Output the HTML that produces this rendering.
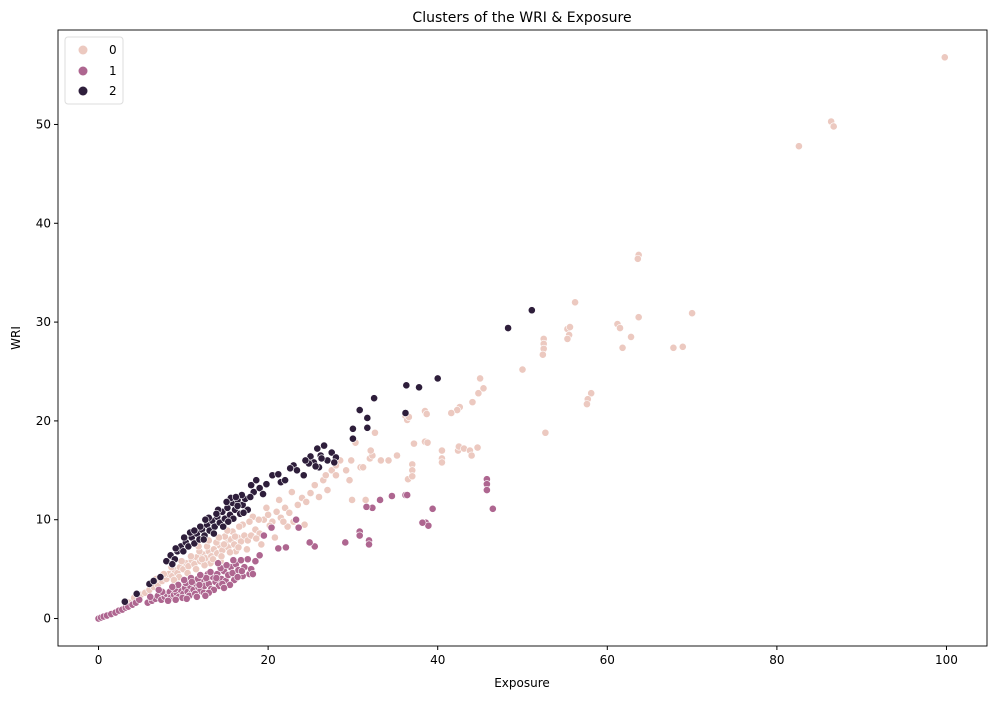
<!DOCTYPE html>
<html><head><meta charset="utf-8"><style>
body{margin:0;background:#fff;}
svg text{font-family:"DejaVu Sans","Liberation Sans",sans-serif;fill:#000;}
</style></head><body>
<svg id="chart" width="997" height="699" xmlns="http://www.w3.org/2000/svg">
<text x="522" y="22" text-anchor="middle" font-size="14">Clusters of the WRI &amp; Exposure</text>
<g id="marks"></g>
<g id="axes"></g>
<text x="522" y="687" text-anchor="middle" font-size="12">Exposure</text>
<text x="20" y="338" text-anchor="middle" font-size="12" transform="rotate(-90 20 338)">WRI</text>
<g>
<rect x="65" y="37" width="58" height="67" rx="3" fill="#fff" stroke="#ddd"/>
<circle cx="83" cy="50" r="4.5" fill="#ecc9c0"/>
<text x="109" y="54" font-size="12">0</text>
<circle cx="83" cy="71" r="4.5" fill="#ae6690"/>
<text x="109" y="75" font-size="12">1</text>
<circle cx="83" cy="91" r="4.5" fill="#2e1e3b"/>
<text x="109" y="95" font-size="12">2</text>
</g>
</svg>
<script>
const xTicks=[0,20,40,60,80,100];
const yTicks=[0,10,20,30,40,50];
const clusterColors=["#ecc9c0","#ae6690","#2e1e3b"];
const cluster1=[[0,0],[0.3,0.1],[0.6,0.2],[1,0.3],[1.5,0.45],[2,0.6],[2.4,0.8],[2.8,0.9],[3.2,1.1],[3.5,1.2],[4,1.4],[4.4,1.6],[4.8,1.9],[5.8,1.6],[6.3,1.8],[6.7,2],[7,2.3],[7.4,1.9],[7.8,2.2],[8,2.5],[8.4,2.7],[8.5,2.1],[8.9,2.4],[9.2,2.6],[9.5,2.2],[9.7,2.9],[10,2.5],[10.2,3.1],[10.5,2.7],[10.8,3.3],[11,2.6],[11.2,2.9],[11.5,3.5],[11.8,3.1],[12,2.8],[12.2,3.7],[12.5,3.3],[12.8,3.9],[13,3.5],[13.3,3],[13.5,4.2],[13.8,3.7],[14,4.5],[14.2,3.3],[14.5,4],[14.8,4.8],[15,3.8],[15.3,4.4],[15.6,5.2],[15.8,4.6],[16.2,5.5],[16.5,4.9],[16.8,5.9],[17.2,5.2],[17.6,6],[17.8,4.5],[18,5],[10.3,3.6],[9,3],[11.7,4],[12.9,4.5],[7.5,2.7],[14.6,3.5],[16,3.9],[13.6,2.9],[18.5,5.8],[19,6.4],[17,4.3],[12.4,2.6],[8.2,1.8],[9.9,2.1],[10.7,2.3],[11.4,2.5],
[9.4,3.4],[10.1,3.9],[10.9,4.1],[11.9,3.4],[12.7,4.1],[13.2,4.7],[13.9,4.1],[14.4,5.1],[15.1,5.4],[15.5,3.4],[16.4,4.2],[12,4.4],[11,3.7],[8.7,3.2],[7.1,2.9],[6.1,2.2],[9.1,1.9],[10.4,2],[13,2.6],[14.8,3.1],[16.9,4.8],[18.2,4.5],[15.9,5.9],[14.1,5.6],[12.6,2.3],[11.6,2.2],
[46.5,11.1],[45.8,14.1],[45.8,13.6],[45.8,13],[39.4,11.1],[38.6,9.7],[38.9,9.4],[38.2,9.7],[36.2,12.5],[36.4,12.5],[34.6,12.4],[33.2,12],[32.3,11.2],[31.6,11.3],[31.9,7.9],[31.9,7.5],[30.8,8.8],[30.8,8.4],[29.1,7.7],[25.5,7.3],[24.9,7.7],[23.6,9.2],[22.1,7.2],[21.2,7.1],[23.3,10],[19.5,8.4],[20.4,9.2]];
const cluster0=[[3.6,1.6],[4.2,2.1],[5,2.4],[5.5,2.6],[6,2.9],[6.5,3.2],[7,3.4],[7.5,3.8],[8,4],[8.3,4.5],[8.7,4.3],[9,4.9],[9.3,4.6],[9.6,5.2],[10,5],[10.3,5.6],[10.6,5.3],[11,5.9],[11.3,5.5],[11.6,6.2],[12,5.8],[12.3,6.5],[12.6,6.1],[13,6.8],[13.3,6.3],[13.6,7],[14,6.6],[14.3,7.4],[14.6,6.9],[15,7.6],[15.3,7.2],[15.6,8],[16,7.5],[16.4,8.2],[16.8,7.8],[17.2,8.4],[17.6,7.9],[18,8.4],[18.5,9],[19,8.6],[19.5,10],[20,10.5],[20.5,9.8],[21,10.8],[21.5,10.2],[22,11.2],[22.5,10.7],[23,9.8],[23.5,11.5],[24,12.2],[24.5,11.8],[25,12.7],[25.5,13.5],[26,12.3],[26.5,14],[27,13],[27.5,15],[28,14.5],[22.8,12.8],[21.3,12],[19.8,11.2],[18.2,10.3],[17,9.5],[15.8,8.8],[14.9,8.3],[13.9,7.7],[12.8,7.3],[11.9,6.8],[10.9,6.3],[9.8,5.8],[8.6,5.2],[7.7,4.5],[6.8,4],[14.4,5.8],[13.2,5.6],[16.2,6.8],[17.5,7],[19.2,7.5],[20.8,8.2],[22.3,9.3],[29.8,16],[29.2,15],[30.3,17.8],[24.3,9.5],
[10.5,4.6],[11.5,5],[12.5,5.4],[13.5,6],[14.5,6.3],[15.5,6.7],[16.5,7.2],[11.8,7.3],[13,7.9],[14.2,8.2],[15.2,8.9],[16.6,9.3],[17.8,9.8],[18.9,10],[20.2,9.4],[21.8,9.8],[9.5,4.2],[8.9,3.9],[12.2,6],[14.8,7.5],[16.1,8.3],[18.6,8.1]];
const cluster0Extra=[[99.8,56.8],[82.6,47.8],[86.4,50.3],[86.7,49.8],[63.7,36.8],[63.6,36.4],[56.2,32],[70,30.9],[63.7,30.5],[61.2,29.8],[61.5,29.4],[62.8,28.5],[61.8,27.4],[67.8,27.4],[68.9,27.5],[55.3,29.3],[55.6,29.5],[55.5,28.7],[55.3,28.3],[52.5,28.3],[52.5,27.8],[52.5,27.3],[52.4,26.7],[50,25.2],[52.7,18.8],[58.1,22.8],[57.7,22.2],[57.6,21.7],[45.4,23.3],[45,24.3],[44.8,22.8],[44.1,21.9],[42.6,21.4],[42.3,21.1],[41.6,20.8],[38.5,21],[38.7,20.7],[38.5,17.9],[38.8,17.8],[36.2,20.5],[36.4,20.1],[36.6,20.4],[33.3,16],[32,16.2],[32.3,16.5],[32.1,17],[32.6,18.8],[34.2,16],[35.2,16.5],[37.2,17.7],[36.5,14.1],[37,15.6],[37,15],[37,14.4],[40.5,16.2],[40.5,15.8],[40.5,17],[42.4,17],[42.5,17.4],[43.1,17.2],[43.8,17],[44.7,17.3],[44,16.5],[30.9,15.3],[31.2,15.3],[31.5,12],[29.9,12],[29.6,14],[28.5,16],[28,15.5],[26.8,14.5]];
const cluster2=[[3.1,1.7],[4.5,2.5],[6,3.5],[6.5,3.8],[7.3,4.2],[8,5.8],[8.5,6.4],[9,6],[9.3,6.8],[9.7,7.3],[10,6.8],[10.3,7.7],[10.6,7.3],[11,8.2],[11.3,7.6],[11.6,8.6],[11.9,8],[12.2,9],[12.5,8.4],[12.8,9.5],[13.1,8.9],[13.4,9.9],[13.7,9.3],[14,10.3],[14.3,9.7],[14.6,10.8],[14.9,10.1],[15.2,11.2],[15.5,10.5],[15.8,11.7],[16.1,11],[16.4,12],[16.7,10.6],[17,11.5],[17.3,12.1],[17.6,11],[18,13.5],[18.3,12.8],[18.6,14],[19,13.2],[19.4,12.6],[19.8,13.6],[20.5,14.5],[21.2,14.6],[21.5,13.8],[22,14],[23,15.5],[23.4,15],[24.2,14.5],[25,16.4],[25.4,15.8],[25.8,17.2],[26.2,16.5],[26.6,17.5],[27,16],[27.5,16.8],[28,16.3],[27.8,15.8],[26,15.3],[24.8,15.7],[13,10.2],[12,9.3],[10.8,8.7],[15.6,12.2],[14.1,11],[16.9,12.5],
[12.4,8],[13.6,8.6],[14.7,9.3],[15.9,10.1],[16.4,11.4],[17.1,10.7],[15.3,9.8],[13.9,10.6],[12.6,10],[11.3,8.9],[10.1,8.2],[9.1,7.1],[8.7,5.5],[17.9,12.3],[16.2,12.3],[15.1,11.8],[24.4,16],[26.3,16.2],[25.6,15.4],[22.6,15.2]];
const cluster2Extra=[[51.1,31.2],[48.3,29.4],[40,24.3],[37.8,23.4],[36.3,23.6],[32.5,22.3],[30.8,21.1],[31.7,20.3],[31.7,19.3],[30,19.2],[30,18.2],[36.2,20.8]];

const L=58,R=987,T=30,B=646;
const xMin=-4.78,xMax=104.78,yMin=-2.78,yMax=59.56;
function sx(v){return L+(v-xMin)/(xMax-xMin)*(R-L);}
function sy(v){return B-(v-yMin)/(yMax-yMin)*(B-T);}
const NS="http://www.w3.org/2000/svg";
const marks=document.getElementById('marks');
const axes=document.getElementById('axes');
[cluster0.concat(cluster0Extra),cluster1,cluster2.concat(cluster2Extra)].forEach((data,ci)=>{
  data.forEach(p=>{
    const c=document.createElementNS(NS,'circle');
    c.setAttribute('cx',sx(p[0]));c.setAttribute('cy',sy(p[1]));
    c.setAttribute('r',3.6);c.setAttribute('fill',clusterColors[ci]);
    c.setAttribute('stroke','#fff');c.setAttribute('stroke-width',0.6);
    
    
    marks.appendChild(c);
  });
});
const frame=document.createElementNS(NS,'rect');
frame.setAttribute('x',L);frame.setAttribute('y',T);frame.setAttribute('width',R-L);frame.setAttribute('height',B-T);
frame.setAttribute('fill','none');frame.setAttribute('stroke','#000');frame.setAttribute('stroke-width',0.9);


axes.appendChild(frame);
xTicks.forEach(t=>{
  const l=document.createElementNS(NS,'line');
  l.setAttribute('x1',sx(t));l.setAttribute('x2',sx(t));l.setAttribute('y1',B);l.setAttribute('y2',B+4);l.setAttribute('stroke','#000');
  
  
  axes.appendChild(l);
  const tx=document.createElementNS(NS,'text');
  tx.setAttribute('x',sx(t));tx.setAttribute('y',B+18);tx.setAttribute('text-anchor','middle');tx.setAttribute('font-size','12');
  tx.textContent=t;
  
  
  axes.appendChild(tx);
});
yTicks.forEach(t=>{
  const l=document.createElementNS(NS,'line');
  l.setAttribute('x1',L-4);l.setAttribute('x2',L);l.setAttribute('y1',sy(t));l.setAttribute('y2',sy(t));l.setAttribute('stroke','#000');
  
  
  axes.appendChild(l);
  const tx=document.createElementNS(NS,'text');
  tx.setAttribute('x',L-7);tx.setAttribute('y',sy(t)+4);tx.setAttribute('text-anchor','end');tx.setAttribute('font-size','12');
  tx.textContent=t;
  
  
  axes.appendChild(tx);
});
</script>
</body></html>
